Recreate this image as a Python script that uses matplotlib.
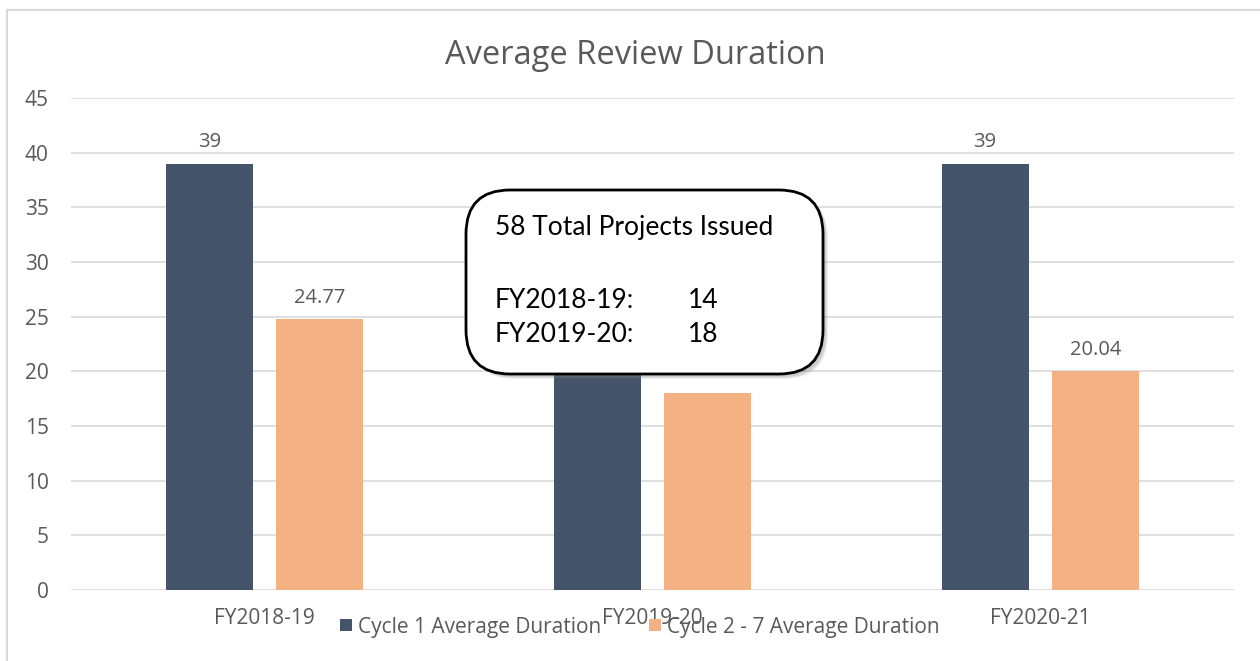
import numpy as np
import matplotlib
matplotlib.use('Agg')
import matplotlib.pyplot as plt
from matplotlib.patches import FancyBboxPatch, Rectangle

## -------------------------------------------------------------------------- ##
categories = ['FY2018-19', 'FY2019-20', 'FY2020-21']
cycle1 = [39, 27, 39]          # middle value hidden behind the note box
cycle2 = [24.77, 18, 20.04]
cycle1_labels = ['39', '', '39']       # middle labels covered by the note box
cycle2_labels = ['24.77', '', '20.04']
series_names = ['Cycle 1 Average Duration', 'Cycle 2 - 7 Average Duration']
note_title = '58 Total Projects Issued'
note_years = ['FY2018-19:', 'FY2019-20:']
note_counts = ['14', '18']
yticks = [0, 5, 10, 15, 20, 25, 30, 35, 40, 45]
## -------------------------------------------------------------------------- ##
dark = '#44546A'
orange = '#F4B183'
grey_txt = '#595959'
grid_col = '#D9D9D9'
plt.rcParams['font.family'] = ['Open Sans', 'DejaVu Sans']
box_font = ['Lato', 'DejaVu Sans']

W, H = 1260, 661
fig = plt.figure(figsize=(W / 100, H / 100), dpi=100)
ax = fig.add_axes([71 / W, 1 - 590 / H, (1234 - 71) / W, (590 - 98) / H])

x = np.arange(len(categories))
width = 0.224
off = 0.142
b1 = ax.bar(x - off, cycle1, width, color=dark, zorder=2)
b2 = ax.bar(x + off, cycle2, width, color=orange, zorder=2)
ax.bar_label(b1, labels=cycle1_labels, padding=8, fontsize=14.5, color=grey_txt)
ax.bar_label(b2, labels=cycle2_labels, padding=8, fontsize=14.5, color=grey_txt)

ax.set_xlim(-0.5, len(categories) - 0.5)
ax.set_ylim(0, 45)
ax.set_yticks(yticks)
for t in yticks:
    ax.axhline(t, color=grid_col, lw=1.2, zorder=1)
ax.set_xticks(x)
ax.set_xticklabels(categories)
ax.tick_params(axis='both', length=0, labelsize=15, colors=grey_txt)
ax.tick_params(axis='y', pad=16)
ax.tick_params(axis='x', pad=13)
for s in ax.spines.values():
    s.set_visible(False)

fig.text(635 / W, 1 - 56 / H, 'Average Review Duration', ha='center', va='center',
         fontsize=23.5, color=grey_txt)

leg = fig.legend(b1.patches[:1] + b2.patches[:1], series_names, loc='center',
                 bbox_to_anchor=(640 / W, 1 - 627 / H), ncol=2, frameon=False,
                 fontsize=15, handlelength=0.55, handleheight=0.55,
                 handletextpad=0.3, columnspacing=2.3)
for t in leg.get_texts():
    t.set_color(grey_txt)

# chart border
fig.patches.append(Rectangle((7 / W, -0.1), 1.2, 1 - 10 / H + 0.1,
                             transform=fig.transFigure, fill=False,
                             edgecolor=grid_col, lw=1.5, zorder=0))

# note box with soft shadow
bx, by, bw, bh = 466, 190, 357, 184
for k, a in [(5, 0.12), (4, 0.15), (3, 0.2)]:
    sh = FancyBboxPatch(((bx + k) / W, 1 - (by + bh + k) / H), bw / W, bh / H,
                        boxstyle='round,pad=0,rounding_size=0.035',
                        transform=fig.transFigure, facecolor='#808080',
                        edgecolor='none', alpha=a, zorder=5,
                        mutation_aspect=W / H)
    fig.patches.append(sh)
box = FancyBboxPatch((bx / W, 1 - (by + bh) / H), bw / W, bh / H,
                     boxstyle='round,pad=0,rounding_size=0.035',
                     transform=fig.transFigure, facecolor='white',
                     edgecolor='black', lw=2, zorder=6, mutation_aspect=W / H)
fig.patches.append(box)

fig.text(495 / W, 1 - 228 / H, note_title, ha='left', va='center',
         fontsize=19, family=box_font, zorder=7)
for i, (yr, n) in enumerate(zip(note_years, note_counts)):
    yy = 301 + 34 * i
    fig.text(495 / W, 1 - yy / H, yr, ha='left', va='center', fontsize=19,
             family=box_font, zorder=7)
    fig.text(688 / W, 1 - yy / H, n, ha='left', va='center', fontsize=19,
             family=box_font, zorder=7)

fig.savefig('out.png', dpi=100)
